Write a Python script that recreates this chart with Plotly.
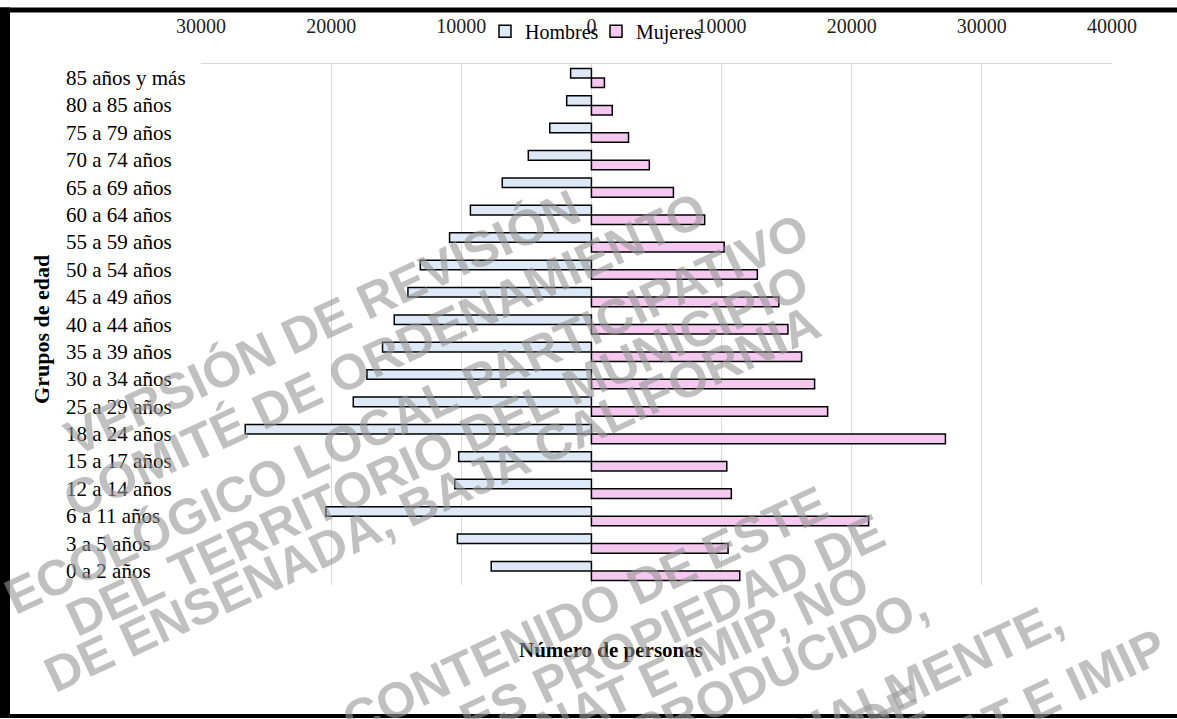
import plotly.graph_objects as go

# Grupos de edad, de arriba hacia abajo
grupos = ["85 años y más", "80 a 85 años", "75 a 79 años", "70 a 74 años",
          "65 a 69 años", "60 a 64 años", "55 a 59 años", "50 a 54 años",
          "45 a 49 años", "40 a 44 años", "35 a 39 años", "30 a 34 años",
          "25 a 29 años", "18 a 24 años", "15 a 17 años", "12 a 14 años",
          "6 a 11 años", "3 a 5 años", "0 a 2 años"]

hombres = [1600, 1900, 3200, 4850, 6850, 9300, 10900, 13150, 14100, 15150,
           16050, 17250, 18300, 26600, 10200, 10500, 20400, 10300, 7700]
mujeres = [1000, 1600, 2850, 4450, 6300, 8700, 10200, 12750, 14400, 15100,
           16150, 17150, 18150, 27200, 10400, 10750, 21300, 10500, 11400]

tick_vals = [-30000, -20000, -10000, 0, 10000, 20000, 30000, 40000]
tick_text = ["30000", "20000", "10000", "0", "10000", "20000", "30000", "40000"]

# watermark lines: text, centre x, centre y (pixels)
marca = [
    ("VERSIÓN DE REVISIÓN", 322, 321),
    ("COMITÉ DE ORDENAMIENTO", 385, 353),
    ("ECOLÓGICO LOCAL PARTICIPATIVO", 407, 413),
    ("DEL TERRITORIO DEL MUNICIPIO", 437, 450),
    ("DE ENSENADA, BAJA CALIFORNIA", 432, 498),
    ("CONTENIDO DE ESTE", 585, 612),
    ("DOCUMENTO ES PROPIEDAD DE", 518, 699),
    ("SEMARNAT E IMIP, NO", 621, 695),
    ("PUEDE SER REPRODUCIDO,", 611, 749),
    ("TOTAL O PARCIALMENTE,", 771, 751),
    ("SIN LOS PERMISOS DE", 666, 820),
    ("SEMARNAT E IMIP", 962, 738),
]

W, H = 1177, 719
L, R, T, B = 201, 1112, 60, 585


def px(x):
    return (x - L) / (R - L)


def py(y):
    return (B - y) / (B - T)


serif = "Liberation Serif"

fig = go.Figure()
fig.add_trace(go.Bar(
    y=grupos, x=[-v for v in hombres], orientation="h", name="Hombres",
    marker=dict(color="#dde9f6", line=dict(color="black", width=1.5)),
))
fig.add_trace(go.Bar(
    y=grupos, x=mujeres, orientation="h", name="Mujeres",
    marker=dict(color="#f5c8ef", line=dict(color="black", width=1.5)),
))

annotations = []
for g in grupos:
    annotations.append(dict(
        x=px(64), xref="paper", y=g, yref="y", text=g, showarrow=False,
        xanchor="left", yanchor="middle", font=dict(family=serif, size=21, color="black"),
    ))

annotations.append(dict(
    x=px(42), xref="paper", y=py(328), yref="paper", text="<b>Grupos de edad</b>",
    textangle=-90, showarrow=False, xanchor="center", yanchor="middle",
    font=dict(family=serif, size=22, color="black"),
))
annotations.append(dict(
    x=px(611), xref="paper", y=py(650), yref="paper", text="<b>Número de personas</b>",
    showarrow=False, xanchor="center", yanchor="middle",
    font=dict(family=serif, size=21, color="black"),
))

for texto, cx, cy in marca:
    annotations.append(dict(
        x=px(cx), xref="paper", y=py(cy), yref="paper", text="<b>" + texto + "</b>",
        textangle=-25, showarrow=False, xanchor="center", yanchor="middle",
        font=dict(family="Liberation Sans", size=50, color="rgba(150,150,150,0.6)"),
    ))

# black frame around the picture
shapes = [
    dict(type="rect", xref="paper", yref="paper", x0=px(0), x1=px(10), y0=py(719), y1=py(3),
         fillcolor="black", line=dict(width=0)),
    dict(type="rect", xref="paper", yref="paper", x0=px(0), x1=px(W), y0=py(8), y1=py(3),
         fillcolor="black", line=dict(width=0)),
    dict(type="rect", xref="paper", yref="paper", x0=px(0), x1=px(W), y0=py(719), y1=py(715),
         fillcolor="black", line=dict(width=0)),
]

fig.update_layout(
    width=W, height=H,
    margin=dict(l=L, r=W - R, t=T, b=H - B),
    paper_bgcolor="white", plot_bgcolor="white",
    barmode="group", bargap=0.3, bargroupgap=0,
    font=dict(family=serif, size=20, color="black"),
    legend=dict(orientation="h", x=px(485), xanchor="left", y=py(27), yanchor="middle",
                bgcolor="rgba(0,0,0,0)", entrywidth=66,
                font=dict(family=serif, size=20, color="black")),
    xaxis=dict(side="top", range=[-30000, 40000], tickvals=tick_vals, ticktext=tick_text,
               showgrid=True, gridcolor="#d9d9d9", gridwidth=1, zeroline=False,
               showline=True, linecolor="#d9d9d9", ticks="", ticklabelstandoff=22,
               tickfont=dict(family=serif, size=20, color="#222")),
    yaxis=dict(type="category", autorange="reversed", showticklabels=False,
               showgrid=False, zeroline=False, showline=False, ticks=""),
    annotations=annotations,
    shapes=shapes,
    showlegend=True,
)

fig.write_html("out.html", config={"displayModeBar": False},
               post_script="document.body.style.margin='0';")
